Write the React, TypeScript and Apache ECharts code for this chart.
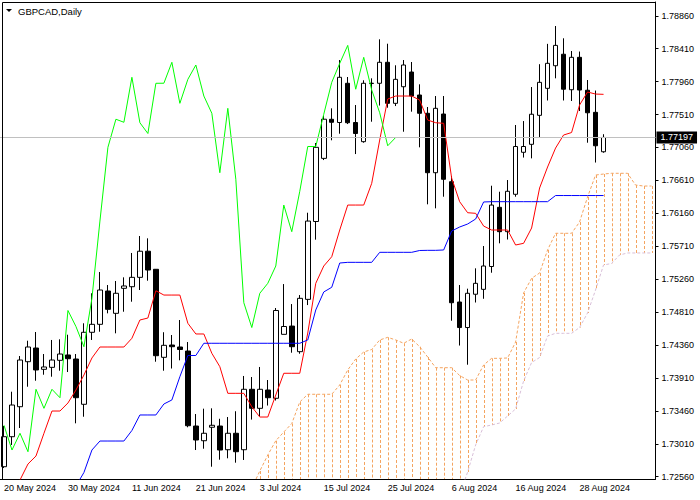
import React, { useEffect, useRef } from 'react';
import * as echarts from 'echarts';

const dates = ["20 May 2024","21 May 2024","22 May 2024","23 May 2024","24 May 2024","27 May 2024","28 May 2024","29 May 2024","30 May 2024","31 May 2024","3 Jun 2024","4 Jun 2024","5 Jun 2024","6 Jun 2024","7 Jun 2024","10 Jun 2024","11 Jun 2024","12 Jun 2024","13 Jun 2024","14 Jun 2024","17 Jun 2024","18 Jun 2024","19 Jun 2024","20 Jun 2024","21 Jun 2024","24 Jun 2024","25 Jun 2024","26 Jun 2024","27 Jun 2024","28 Jun 2024","1 Jul 2024","2 Jul 2024","3 Jul 2024","4 Jul 2024","5 Jul 2024","8 Jul 2024","9 Jul 2024","10 Jul 2024","11 Jul 2024","12 Jul 2024","15 Jul 2024","16 Jul 2024","17 Jul 2024","18 Jul 2024","19 Jul 2024","22 Jul 2024","23 Jul 2024","24 Jul 2024","25 Jul 2024","26 Jul 2024","29 Jul 2024","30 Jul 2024","31 Jul 2024","1 Aug 2024","2 Aug 2024","5 Aug 2024","6 Aug 2024","7 Aug 2024","8 Aug 2024","9 Aug 2024","12 Aug 2024","13 Aug 2024","14 Aug 2024","15 Aug 2024","16 Aug 2024","19 Aug 2024","20 Aug 2024","21 Aug 2024","22 Aug 2024","23 Aug 2024","26 Aug 2024","27 Aug 2024","28 Aug 2024","29 Aug 2024","30 Aug 2024","2 Sep 2024"];
const futureDates = ["3 Sep 2024","4 Sep 2024","5 Sep 2024","6 Sep 2024","9 Sep 2024","10 Sep 2024"];

const opens = [1.72697,1.73107,1.73517,1.74132,1.74319,1.74028,1.74055,1.74151,1.74224,1.74169,
1.73550,1.74534,1.74643,1.75098,1.74793,1.75135,1.75157,1.75285,1.75642,1.75395,
1.74192,1.74360,1.74333,1.74278,1.73253,1.73052,1.73236,1.73253,1.72929,1.73154,
1.72929,1.73755,1.73495,1.73745,1.73632,1.74506,1.74619,1.74269,1.74984,1.76048,
1.76911,1.77445,1.77401,1.77937,1.77401,1.77139,1.77934,1.77937,1.78224,1.77663,
1.77890,1.78091,1.77777,1.77527,1.76715,1.77517,1.76592,1.74948,1.74599,1.75054,
1.75121,1.75433,1.76242,1.75909,1.76420,1.76994,1.77103,1.77499,1.77868,1.78177,
1.78334,1.77849,1.78292,1.77842,1.77540,1.77001];

const closes = [1.73107,1.73540,1.74155,1.74333,1.74019,1.74060,1.74155,1.74237,1.74173,1.73640,
1.74534,1.74643,1.75112,1.74848,1.75067,1.75167,1.75285,1.75642,1.75385,1.74214,
1.74356,1.74337,1.74299,1.73257,1.73062,1.73154,1.73263,1.72925,1.73154,1.72902,
1.73755,1.73495,1.73755,1.73640,1.74832,1.74613,1.74337,1.74998,1.76054,1.77062,
1.77446,1.77404,1.78019,1.77398,1.77251,1.77937,1.77938,1.78224,1.77663,1.77991,
1.78187,1.77763,1.77527,1.76715,1.77595,1.76625,1.74938,1.74599,1.75067,1.75203,
1.75440,1.76273,1.75909,1.76461,1.77073,1.77073,1.77514,1.77950,1.78210,1.78455,
1.77856,1.78292,1.77845,1.77534,1.77083,1.77197];

const lows = [1.72679,1.72994,1.73226,1.73790,1.73872,1.73954,1.73927,1.74009,1.73991,1.73290,
1.73380,1.74429,1.74542,1.74793,1.74520,1.74815,1.74952,1.75112,1.75239,1.74132,
1.74009,1.74039,1.74151,1.73236,1.72925,1.72943,1.72697,1.72793,1.72812,1.72752,
1.72789,1.73341,1.73390,1.73533,1.73602,1.74506,1.74255,1.74241,1.74906,1.75800,
1.76888,1.77158,1.77248,1.77380,1.76970,1.77125,1.77412,1.77633,1.77603,1.77626,
1.77275,1.77549,1.77062,1.76283,1.76228,1.76387,1.74692,1.74353,1.74091,1.74941,
1.74992,1.75348,1.75750,1.75802,1.76387,1.76922,1.76911,1.77189,1.77702,1.78005,
1.77702,1.77695,1.77558,1.77125,1.76854,1.76988];

const highs = [1.73253,1.73722,1.74210,1.74419,1.74538,1.74237,1.74429,1.74438,1.74501,1.74237,
1.74657,1.75067,1.75358,1.75180,1.75235,1.75285,1.75618,1.75850,1.75818,1.75399,
1.74535,1.74497,1.74702,1.74401,1.73417,1.73490,1.73495,1.73352,1.73376,1.73455,
1.73937,1.73923,1.74060,1.73882,1.74866,1.75193,1.74920,1.75043,1.76168,1.77121,
1.77490,1.77595,1.78255,1.78023,1.77640,1.77978,1.78005,1.78538,1.78478,1.78183,
1.78255,1.78228,1.77923,1.77613,1.77763,1.77763,1.76670,1.75180,1.75130,1.75408,
1.75713,1.76537,1.76455,1.76615,1.77367,1.77421,1.77886,1.78198,1.78476,1.78720,
1.78552,1.78378,1.78371,1.77982,1.77838,1.77241];

const tenkan = [null,1.72310,1.72515,1.72734,1.72843,1.73154,1.73458,1.73458,1.73568,1.73745,
1.73950,1.74183,1.74333,1.74333,1.74333,1.74333,1.74452,1.74702,1.74729,1.75102,
1.75043,1.75043,1.75043,1.74657,1.74511,1.74511,1.74247,1.74064,1.73700,1.73700,
1.73700,1.73517,1.73376,1.73376,1.73677,1.73974,1.73974,1.73974,1.74524,1.75203,
1.75440,1.75567,1.75932,1.76273,1.76273,1.76273,1.76570,1.77162,1.77722,1.77763,
1.77763,1.77763,1.77708,1.77435,1.77398,1.77390,1.76642,1.76319,1.76168,1.76160,
1.75986,1.75932,1.75932,1.75932,1.75727,1.75750,1.75959,1.76506,1.76793,1.77052,
1.77230,1.77264,1.77640,1.77818,1.77790,1.77786];

const kijun = [null,null,null,null,null,null,null,null,null,1.72433,
1.72618,1.72925,1.73048,1.73048,1.73048,1.73048,1.73192,1.73404,1.73404,1.73404,
1.73554,1.73609,1.73927,1.74217,1.74217,1.74384,1.74384,1.74384,1.74384,1.74384,
1.74384,1.74384,1.74384,1.74384,1.74384,1.74384,1.74384,1.74384,1.74429,1.74839,
1.75085,1.75149,1.75481,1.75490,1.75490,1.75490,1.75490,1.75627,1.75627,1.75627,
1.75627,1.75627,1.75652,1.75654,1.75654,1.75659,1.75918,1.75973,1.76014,1.76082,
1.76315,1.76319,1.76319,1.76319,1.76319,1.76319,1.76319,1.76319,1.76319,1.76403,
1.76403,1.76403,1.76403,1.76403,1.76403,1.76403];

// Senkou spans, index 0..81 (shifted 26 bars ahead)
const senkouA = [null,null,null,null,null,null,null,null,null,null,
null,null,null,null,null,null,null,null,null,null,
null,null,null,null,null,null,null,null,null,null,
null,1.72406,1.72638,1.72857,1.73052,1.73171,1.73287,1.73581,1.73687,1.73687,
1.73687,1.73687,1.73814,1.74019,1.74169,1.74265,1.74299,1.74429,1.74465,1.74429,
1.74384,1.74442,1.74337,1.74196,1.74050,1.74050,1.74050,1.73943,1.73882,1.73882,
1.74087,1.74178,1.74178,1.74183,1.74401,1.75071,1.75272,1.75344,1.75659,1.75887,
1.75887,1.75887,1.76041,1.76383,1.76683,1.76697,1.76707,1.76707,1.76707,1.76547,
1.76533,1.76533];

const senkouB = [null,null,null,null,null,null,null,null,null,null,
null,null,null,null,null,null,null,null,null,null,
null,null,null,null,null,null,null,null,null,null,
null,1.72000,1.72000,1.72000,1.72000,1.72000,1.72000,1.72000,1.72000,1.72000,
1.72000,1.72000,1.72000,1.72000,1.72000,1.72000,1.72000,1.72000,1.72000,1.72000,
1.72000,1.72000,1.72000,1.72000,1.72000,1.72000,1.72000,1.72310,1.72625,1.72994,
1.73244,1.73267,1.73294,1.73390,1.73486,1.73868,1.74121,1.74189,1.74483,1.74520,
1.74520,1.74520,1.74599,1.74798,1.75112,1.75454,1.75474,1.75590,1.75618,1.75618,
1.75618,1.75618];

const yTicks = [1.7256,1.7301,1.7346,1.7391,1.7436,1.7481,1.7526,1.7571,1.7616,1.7661,1.7706,1.7751,1.7796,1.7841,1.7886];
const lastPrice = 1.77197;
const yMin = 1.72529;
const yMax = 1.79048;
const chikouShift = 26;

export default function App() {
  const ref = useRef<HTMLDivElement>(null);
  useEffect(() => {
    const chart = echarts.init(ref.current!, null, { renderer: 'svg' });
    const font = "'Liberation Sans', Arial, sans-serif";
    const cats = dates.concat(futureDates);
    const labelIdx = (i: number) => i % 8 === 0 && i < dates.length;
    const candles = opens.map((o, i) => [o, closes[i], lows[i], highs[i]]);
    const chikou = closes.slice(chikouShift);
    const hatch: number[][] = [];
    senkouA.forEach((a, i) => {
      const b = senkouB[i];
      if (a != null && b != null) hatch.push([i, a as number, b as number]);
    });

    chart.setOption({
      animation: false,
      backgroundColor: '#ffffff',
      grid: { left: -0.5, top: 2, width: 656, height: 477 },
      xAxis: {
        type: 'category',
        data: cats,
        boundaryGap: true,
        axisLine: { lineStyle: { color: '#000', width: 1 } },
        axisTick: { interval: (i: number) => labelIdx(i), alignWithLabel: true, length: 3, lineStyle: { color: '#000' } },
        axisLabel: { interval: (i: number) => labelIdx(i), align: 'left', margin: 4, color: '#000', fontSize: 9, fontFamily: font },
        splitLine: { show: false },
      },
      yAxis: {
        type: 'value',
        position: 'right',
        min: yMin,
        max: yMax,
        axisLine: { show: true, lineStyle: { color: '#000' } },
        axisTick: { show: true, length: 3, customValues: yTicks, lineStyle: { color: '#000' } },
        axisLabel: { customValues: yTicks, formatter: (v: number) => v.toFixed(5), margin: 6, color: '#000', fontSize: 9, fontFamily: font },
        splitLine: { show: false },
      },
      series: [
        {
          type: 'custom',
          name: 'kumo',
          clip: true,
          z: 1,
          silent: true,
          data: hatch,
          encode: { x: 0, y: [1, 2] },
          renderItem: (params: any, api: any) => {
            const i = api.value(0);
            const a = api.value(1);
            const b = api.value(2);
            const p1 = api.coord([i, a]);
            const p2 = api.coord([i, b]);
            const x = Math.round(p1[0]) + 0.5;
            return {
              type: 'line',
              shape: { x1: x, y1: p1[1], x2: x, y2: p2[1] },
              style: { stroke: a >= b ? '#F4A460' : '#D8BFD8', lineWidth: 1, lineDash: [3, 2] },
            };
          },
        },
        {
          type: 'line', name: 'Senkou A', data: senkouA, z: 2, symbol: 'none', silent: true,
          lineStyle: { color: '#F4A460', width: 1, type: [3, 2] },
        },
        {
          type: 'line', name: 'Senkou B', data: senkouB, z: 2, symbol: 'none', silent: true,
          lineStyle: { color: '#D8BFD8', width: 1, type: [3, 2] },
        },
        {
          type: 'line', name: 'Bid', data: [], z: 2, symbol: 'none', silent: true,
          markLine: {
            silent: true,
            precision: 5,
            symbol: ['none', 'none'],
            data: [{ yAxis: lastPrice }],
            lineStyle: { color: '#C0C0C0', width: 1, type: 'solid' },
            label: {
              show: true, position: 'end', distance: 1,
              formatter: lastPrice.toFixed(5),
              color: '#ffffff', backgroundColor: '#000000', padding: [2, 4, 1, 4],
              fontSize: 9, fontFamily: font,
            },
          },
        },
        {
          type: 'candlestick',
          name: 'GBPCAD',
          data: candles,
          z: 3,
          barWidth: 5,
          silent: true,
          itemStyle: { color: '#ffffff', color0: '#000000', borderColor: '#000000', borderColor0: '#000000', borderColorDoji: '#000000', borderWidth: 1 },
        },
        {
          type: 'line', name: 'Tenkan', data: tenkan, z: 4, symbol: 'none', silent: true,
          lineStyle: { color: '#FF0000', width: 1 },
        },
        {
          type: 'line', name: 'Kijun', data: kijun, z: 4, symbol: 'none', silent: true,
          lineStyle: { color: '#0000FF', width: 1 },
        },
        {
          type: 'line', name: 'Chikou', data: chikou, z: 4, symbol: 'none', silent: true,
          lineStyle: { color: '#00FF00', width: 1 },
        },
      ],
      graphic: [
        { type: 'line', z: 100, silent: true, shape: { x1: 2.5, y1: 2.5, x2: 655.5, y2: 2.5 }, style: { stroke: '#000', lineWidth: 1 } },
        { type: 'line', z: 100, silent: true, shape: { x1: 2.5, y1: 2.5, x2: 2.5, y2: 479 }, style: { stroke: '#000', lineWidth: 1 } },
        { type: 'polygon', z: 100, silent: true, shape: { points: [[6, 9], [12, 9], [9, 12]] }, style: { fill: '#000' } },
        { type: 'text', z: 100, silent: true, x: 18, y: 11, style: { text: 'GBPCAD,Daily', fill: '#000', font: `9.5px ${font}`, verticalAlign: 'middle' } },
      ],
    });
    return () => chart.dispose();
  }, []);
  return <div ref={ref} style={{ position: 'absolute', left: 0, top: 0, width: 700, height: 500 }} />;
}
